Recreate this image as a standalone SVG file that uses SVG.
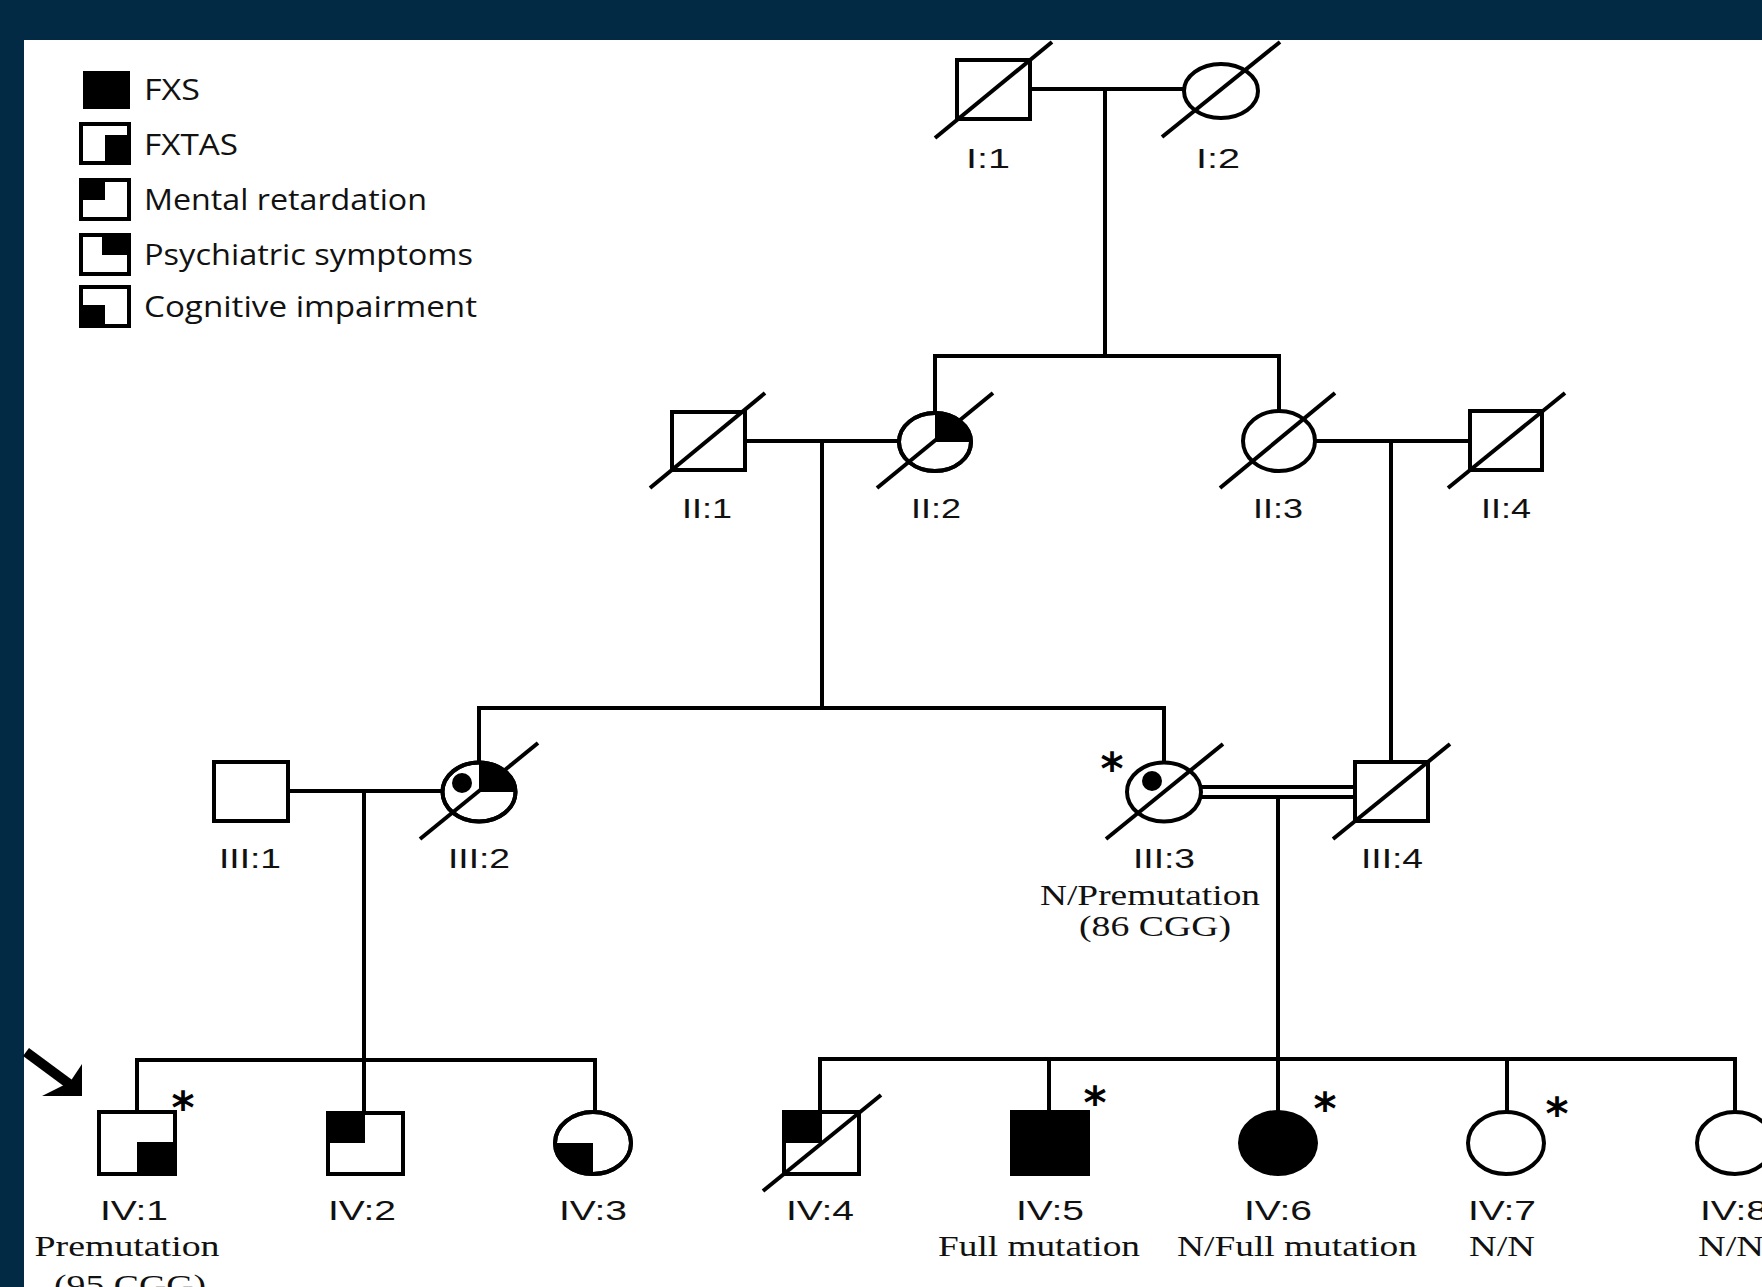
<svg xmlns="http://www.w3.org/2000/svg" width="1762" height="1287" viewBox="0 0 1762 1287">
<style>
.ln{stroke:#000;stroke-width:4;fill:none}
.sym{stroke:#000;stroke-width:4;fill:#fff}
.blk{fill:#000}
.dec{stroke:#000;stroke-width:4}
.lab{font-family:"Liberation Sans",Arial,sans-serif;font-size:28px;fill:#111;text-anchor:middle}
.ser{font-family:"Liberation Serif","Times New Roman",serif;font-size:30px;fill:#111;text-anchor:middle}
.leg{font-family:"Open Sans","Noto Sans",sans-serif;font-size:30px;fill:#111}
.ast{font-family:"DejaVu Sans",sans-serif;font-weight:bold;font-size:44px;fill:#000;text-anchor:middle}
</style>
<rect x="0" y="0" width="1762" height="1287" fill="#022a44"/>
<rect x="24" y="40" width="1738" height="1247" fill="#fff"/>

<g id="legend">
  <rect class="blk" x="83" y="71" width="47" height="38"/>
  <text class="leg" x="144" y="100" textLength="56" lengthAdjust="spacingAndGlyphs">FXS</text>
  <rect class="blk" x="105" y="135" width="26" height="30"/>
  <rect class="ln" x="81" y="124" width="48" height="39"/>
  <text class="leg" x="144" y="155" textLength="94" lengthAdjust="spacingAndGlyphs">FXTAS</text>
  <rect class="blk" x="79" y="178" width="26" height="22"/>
  <rect class="ln" x="81" y="180" width="48" height="39"/>
  <text class="leg" x="144" y="210" textLength="283" lengthAdjust="spacingAndGlyphs">Mental retardation</text>
  <rect class="blk" x="102" y="233" width="29" height="22"/>
  <rect class="ln" x="81" y="235" width="48" height="39"/>
  <text class="leg" x="144" y="265" textLength="329" lengthAdjust="spacingAndGlyphs">Psychiatric symptoms</text>
  <rect class="blk" x="79" y="305" width="26" height="23"/>
  <rect class="ln" x="81" y="287" width="48" height="39"/>
  <text class="leg" x="144" y="317" textLength="333" lengthAdjust="spacingAndGlyphs">Cognitive impairment</text>
</g>

<g id="connectors">
  <line class="ln" x1="1032" y1="89" x2="1184" y2="89"/>
  <line class="ln" x1="1105" y1="89" x2="1105" y2="356"/>
  <line class="ln" x1="935" y1="356" x2="1279" y2="356"/>
  <line class="ln" x1="935" y1="354" x2="935" y2="413"/>
  <line class="ln" x1="1279" y1="354" x2="1279" y2="411"/>
  <line class="ln" x1="745" y1="441" x2="899" y2="441"/>
  <line class="ln" x1="822" y1="441" x2="822" y2="708"/>
  <line class="ln" x1="1315" y1="441" x2="1470" y2="441"/>
  <line class="ln" x1="1391" y1="441" x2="1391" y2="762"/>
  <line class="ln" x1="479" y1="708" x2="1164" y2="708"/>
  <line class="ln" x1="479" y1="706" x2="479" y2="763"/>
  <line class="ln" x1="1164" y1="706" x2="1164" y2="762"/>
  <line class="ln" x1="288" y1="791" x2="443" y2="791"/>
  <line class="ln" x1="364" y1="791" x2="364" y2="1113"/>
  <line class="ln" x1="1201" y1="787" x2="1355" y2="787"/>
  <line class="ln" x1="1201" y1="797" x2="1355" y2="797"/>
  <line class="ln" x1="1278" y1="797" x2="1278" y2="1112"/>
  <line class="ln" x1="137" y1="1060" x2="595" y2="1060"/>
  <line class="ln" x1="137" y1="1058" x2="137" y2="1113"/>
  <line class="ln" x1="595" y1="1058" x2="595" y2="1112"/>
  <line class="ln" x1="820" y1="1059" x2="1735" y2="1059"/>
  <line class="ln" x1="820" y1="1057" x2="820" y2="1112"/>
  <line class="ln" x1="1049" y1="1059" x2="1049" y2="1112"/>
  <line class="ln" x1="1507" y1="1059" x2="1507" y2="1112"/>
  <line class="ln" x1="1735" y1="1057" x2="1735" y2="1112"/>
</g>

<g id="I-1">
  <rect class="sym" x="957" y="60" width="73" height="59"/>
  <line class="dec" x1="935" y1="138" x2="1052" y2="42"/>
  <text class="lab" x="988" y="168" textLength="44" lengthAdjust="spacingAndGlyphs">I:1</text>
</g>
<g id="I-2">
  <ellipse class="sym" cx="1221" cy="91" rx="37" ry="27"/>
  <line class="dec" x1="1162" y1="137" x2="1280" y2="42"/>
  <text class="lab" x="1218" y="168" textLength="44" lengthAdjust="spacingAndGlyphs">I:2</text>
</g>
<g id="II-1">
  <rect class="sym" x="672" y="412" width="73" height="58"/>
  <line class="dec" x1="650" y1="488" x2="765" y2="393"/>
  <text class="lab" x="707" y="518" textLength="50" lengthAdjust="spacingAndGlyphs">II:1</text>
</g>
<g id="II-2">
  <ellipse class="sym" cx="935" cy="442" rx="36" ry="29"/>
  <path class="blk" d="M935,442 L935,413 A36,29 0 0 1 971,442 Z"/>
  <ellipse class="ln" cx="935" cy="442" rx="36" ry="29"/>
  <line class="dec" x1="877" y1="488" x2="993" y2="393"/>
  <text class="lab" x="936" y="518" textLength="50" lengthAdjust="spacingAndGlyphs">II:2</text>
</g>
<g id="II-3">
  <ellipse class="sym" cx="1279" cy="441" rx="36" ry="30"/>
  <line class="dec" x1="1220" y1="488" x2="1335" y2="393"/>
  <text class="lab" x="1278" y="518" textLength="50" lengthAdjust="spacingAndGlyphs">II:3</text>
</g>
<g id="II-4">
  <rect class="sym" x="1470" y="411" width="72" height="59"/>
  <line class="dec" x1="1448" y1="488" x2="1565" y2="393"/>
  <text class="lab" x="1506" y="518" textLength="50" lengthAdjust="spacingAndGlyphs">II:4</text>
</g>
<g id="III-1">
  <rect class="sym" x="214" y="762" width="74" height="59"/>
  <text class="lab" x="250" y="868" textLength="62" lengthAdjust="spacingAndGlyphs">III:1</text>
</g>
<g id="III-2">
  <ellipse class="sym" cx="479" cy="792" rx="36.5" ry="29.5"/>
  <path class="blk" d="M479,792 L479,762.5 A36.5,29.5 0 0 1 515.5,792 Z"/>
  <ellipse class="ln" cx="479" cy="792" rx="36.5" ry="29.5"/>
  <circle class="blk" cx="462" cy="783" r="10"/>
  <line class="dec" x1="420" y1="839" x2="538" y2="743"/>
  <text class="lab" x="479" y="868" textLength="62" lengthAdjust="spacingAndGlyphs">III:2</text>
</g>
<g id="III-3">
  <ellipse class="sym" cx="1164" cy="792" rx="37" ry="29.5"/>
  <circle class="blk" cx="1152" cy="781" r="10"/>
  <line class="dec" x1="1106" y1="839" x2="1223" y2="744"/>
  <text class="ast" x="1112" y="784">*</text>
  <text class="lab" x="1164" y="868" textLength="62" lengthAdjust="spacingAndGlyphs">III:3</text>
  <text class="ser" x="1150" y="905" textLength="220" lengthAdjust="spacingAndGlyphs">N/Premutation</text>
  <text class="ser" x="1155" y="936" textLength="152" lengthAdjust="spacingAndGlyphs">(86 CGG)</text>
</g>
<g id="III-4">
  <rect class="sym" x="1355" y="762" width="73" height="59"/>
  <line class="dec" x1="1333" y1="839" x2="1450" y2="744"/>
  <text class="lab" x="1392" y="868" textLength="62" lengthAdjust="spacingAndGlyphs">III:4</text>
</g>
<g id="proband-arrow">
  <line x1="26" y1="1052" x2="72" y2="1086" stroke="#000" stroke-width="10"/>
  <polygon class="blk" points="82,1096 82,1064 70,1082 42,1096"/>
</g>
<g id="IV-1">
  <rect class="sym" x="99" y="1112" width="76" height="62"/>
  <rect class="blk" x="137" y="1142" width="40" height="34"/>
  <rect class="ln" x="99" y="1112" width="76" height="62"/>
  <text class="ast" x="183" y="1123">*</text>
  <text class="lab" x="134" y="1220" textLength="68" lengthAdjust="spacingAndGlyphs">IV:1</text>
  <text class="ser" x="127" y="1256" textLength="185" lengthAdjust="spacingAndGlyphs">Premutation</text>
  <text class="ser" x="130" y="1295" textLength="152" lengthAdjust="spacingAndGlyphs">(95 CGG)</text>
</g>
<g id="IV-2">
  <rect class="sym" x="328" y="1113" width="75" height="61"/>
  <rect class="blk" x="326" y="1111" width="39" height="32"/>
  <rect class="ln" x="328" y="1113" width="75" height="61"/>
  <text class="lab" x="362" y="1220" textLength="68" lengthAdjust="spacingAndGlyphs">IV:2</text>
</g>
<g id="IV-3">
  <ellipse class="sym" cx="593" cy="1143" rx="38" ry="31"/>
  <path class="blk" d="M593,1143 L593,1174 A38,31 0 0 1 555,1143 Z"/>
  <ellipse class="ln" cx="593" cy="1143" rx="38" ry="31"/>
  <text class="lab" x="593" y="1220" textLength="68" lengthAdjust="spacingAndGlyphs">IV:3</text>
</g>
<g id="IV-4">
  <rect class="sym" x="784" y="1112" width="75" height="62"/>
  <rect class="blk" x="782" y="1110" width="40" height="33"/>
  <rect class="ln" x="784" y="1112" width="75" height="62"/>
  <line class="dec" x1="763" y1="1191" x2="881" y2="1095"/>
  <text class="lab" x="820" y="1220" textLength="68" lengthAdjust="spacingAndGlyphs">IV:4</text>
</g>
<g id="IV-5">
  <rect class="blk" x="1010" y="1110" width="80" height="66"/>
  <text class="ast" x="1095" y="1118">*</text>
  <text class="lab" x="1050" y="1220" textLength="68" lengthAdjust="spacingAndGlyphs">IV:5</text>
  <text class="ser" x="1039" y="1256" textLength="202" lengthAdjust="spacingAndGlyphs">Full mutation</text>
</g>
<g id="IV-6">
  <ellipse class="blk" cx="1278" cy="1143" rx="40" ry="33"/>
  <text class="ast" x="1325" y="1124">*</text>
  <text class="lab" x="1278" y="1220" textLength="68" lengthAdjust="spacingAndGlyphs">IV:6</text>
  <text class="ser" x="1297" y="1256" textLength="240" lengthAdjust="spacingAndGlyphs">N/Full mutation</text>
</g>
<g id="IV-7">
  <ellipse class="sym" cx="1506" cy="1143" rx="38" ry="31"/>
  <text class="ast" x="1557" y="1129">*</text>
  <text class="lab" x="1502" y="1220" textLength="68" lengthAdjust="spacingAndGlyphs">IV:7</text>
  <text class="ser" x="1502" y="1256" textLength="66" lengthAdjust="spacingAndGlyphs">N/N</text>
</g>
<g id="IV-8">
  <ellipse class="sym" cx="1735" cy="1143" rx="38" ry="31"/>
  <text class="lab" x="1734" y="1220" textLength="68" lengthAdjust="spacingAndGlyphs">IV:8</text>
  <text class="ser" x="1731" y="1256" textLength="66" lengthAdjust="spacingAndGlyphs">N/N</text>
</g>
</svg>
